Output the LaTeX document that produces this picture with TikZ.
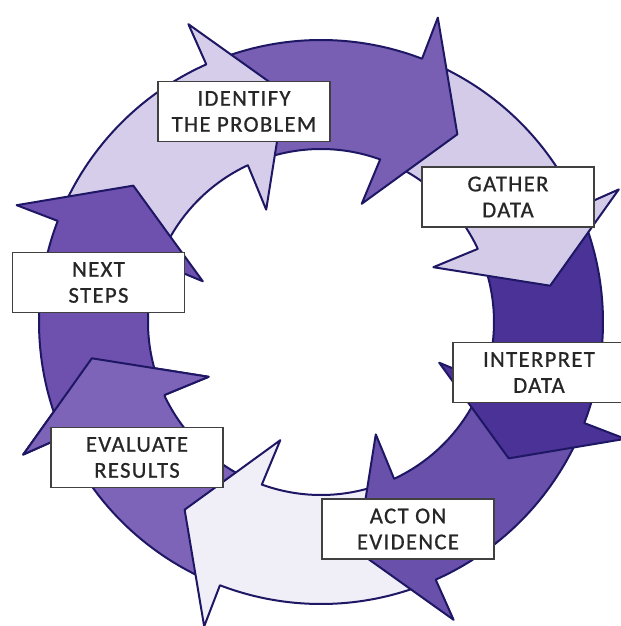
\documentclass[tikz,border=0pt]{standalone}
\usepackage{fontspec}
\newfontfamily\boxfont[LetterSpace=6, FakeBold=0.8]{Carlito}
\definecolor{ringline}{HTML}{1E1764}
\definecolor{nextpurple}{HTML}{6E50AF}
\definecolor{lilac}{HTML}{D5CDE9}
\definecolor{midpurple}{HTML}{785FB4}
\definecolor{gatherlilac}{HTML}{D3CBE8}
\definecolor{darkpurple}{HTML}{4B3296}
\definecolor{actpurple}{HTML}{6950AA}
\definecolor{palelilac}{HTML}{F0EEF7}
\definecolor{evalpurple}{HTML}{7D64B9}
\definecolor{boxline}{HTML}{404040}
\definecolor{boxtext}{HTML}{262626}

% one curved arrow of the ring: #1 = angle of its tip, #2 = fill colour
\newcommand{\ringarrow}[2]{%
  \draw[ringpiece, fill=#2] ({#1+57}:282) arc[start angle={#1+57}, end angle={#1+15}, radius=282]
    -- ({#1+15}:326) -- (#1:232) -- ({#1+17}:125) -- ({#1+16}:173)
    arc[start angle={#1+16}, end angle={#1+57}, radius=173] -- cycle;
}

\begin{document}
\begin{tikzpicture}[x=0.75pt, y=0.75pt,
  ringpiece/.style={draw=ringline, line width=1.5pt, line join=round},
  stage/.style={rectangle, draw=boxline, line width=0.9pt, fill=white, text=boxtext,
    minimum width=129pt, minimum height=45pt, inner sep=0pt, align=center,
    font=\boxfont\fontsize{17}{19.5}\selectfont}]
\useasboundingbox (-321,-304) rectangle (300,322);

% ring of arrows, drawn backwards so that each head lies over the next tail
\ringarrow{-171}{evalpurple}
\ringarrow{-126}{palelilac}
\ringarrow{-81}{actpurple}
\ringarrow{-36}{darkpurple}
\ringarrow{9}{gatherlilac}
\ringarrow{54}{midpurple}
\ringarrow{99}{lilac}
\ringarrow{144}{nextpurple}
% head of the last arrow again, over the tail of the first one
\fill[evalpurple] (-156:282) -- (-156:326) -- (-171:232) -- (-154:125) -- (-155:173) -- cycle;
\draw[ringpiece] (-156:282) -- (-156:326) -- (-171:232) -- (-154:125) -- (-155:173);

% stage labels
\node[stage] (identify) at (-77,210.5) {IDENTIFY\\THE PROBLEM};
\node[stage] (gather) at (187,125) {GATHER\\DATA};
\node[stage] (interpret) at (218,-50.5) {INTERPRET\\DATA};
\node[stage] (act) at (87,-207) {ACT ON\\EVIDENCE};
\node[stage] (evaluate) at (-184,-135.5) {EVALUATE\\RESULTS};
\node[stage] (next) at (-222.5,39.5) {NEXT\\STEPS};
\end{tikzpicture}
\end{document}
